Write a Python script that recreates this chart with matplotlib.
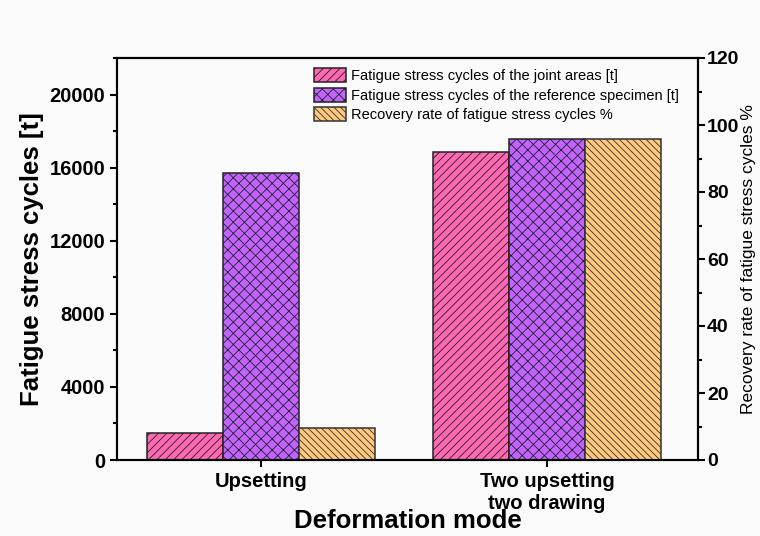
import numpy as np
import matplotlib
matplotlib.use('Agg')
import matplotlib.pyplot as plt
from matplotlib.ticker import MultipleLocator

plt.rcParams['font.family'] = ['Liberation Sans', 'DejaVu Sans']
plt.rcParams['hatch.linewidth'] = 0.6

modes = ['Upsetting', 'Two upsetting\ntwo drawing']
joint_cycles = [1480, 16850]
reference_cycles = [15680, 17550]
recovery_rate = [9.5, 95.8]

labels = ['Fatigue stress cycles of the joint areas [t]',
          'Fatigue stress cycles of the reference specimen [t]',
          'Recovery rate of fatigue stress cycles %']

bg = '#fafafa'
fig = plt.figure(figsize=(7.6, 5.36), dpi=100, facecolor=bg)
# axes box: left 117px, right 698px, top 58px, bottom 460px
ax = fig.add_axes([117/760, 1-460/536, 581/760, 402/536], facecolor=bg)
ax2 = ax.twinx()

x = np.arange(len(modes))
w = 0.266
b1 = ax.bar(x - w, joint_cycles, w, color='#ff69b4', edgecolor='#222222',
            hatch='////', linewidth=1.1, label=labels[0])
b2 = ax.bar(x, reference_cycles, w, color='#c263ff', edgecolor='#222222',
            hatch='xxx', linewidth=1.1, label=labels[1])
b3 = ax2.bar(x + w, recovery_rate, w, color='#ffc87c', edgecolor='#333333',
             hatch='\\\\\\\\\\', linewidth=1.1, label=labels[2])

ax.set_xlim(-0.503, 1.528)
ax.set_ylim(0, 22000)
ax2.set_ylim(0, 120)

ax.set_xticks(x)
ax.set_xticklabels(modes, fontsize=14.5, fontweight='bold')
ax.yaxis.set_major_locator(MultipleLocator(4000))
ax.yaxis.set_minor_locator(MultipleLocator(2000))
ax2.yaxis.set_major_locator(MultipleLocator(20))
ax2.yaxis.set_minor_locator(MultipleLocator(10))

for a in (ax, ax2):
    a.tick_params(axis='both', which='major', length=5, width=1.5, labelsize=14.5, direction='out')
    a.tick_params(axis='both', which='minor', length=3, width=1.5, direction='out')
    for s in a.spines.values():
        s.set_linewidth(1.5)
ax2.tick_params(axis='y', which='major', pad=1.5, labelsize=14)
for t in ax.get_yticklabels() + ax2.get_yticklabels():
    t.set_fontweight('bold')

ax.set_ylabel('Fatigue stress cycles [t]', fontsize=18.5, fontweight='bold', labelpad=4)
ax.set_xlabel('Deformation mode', fontsize=18.5, fontweight='bold', labelpad=-3)
ax2.set_ylabel('Recovery rate of fatigue stress cycles %', fontsize=12.5, labelpad=1)

ax.legend([b1, b2, b3], labels, loc='upper left',
          bbox_to_anchor=((314-117)/581, (460-68)/402),
          frameon=False, fontsize=10.5, handlelength=2.2, handleheight=1.1,
          handletextpad=0.35, labelspacing=0.32, borderpad=0, borderaxespad=0)

fig.savefig('out.png', dpi=100, facecolor=bg)
